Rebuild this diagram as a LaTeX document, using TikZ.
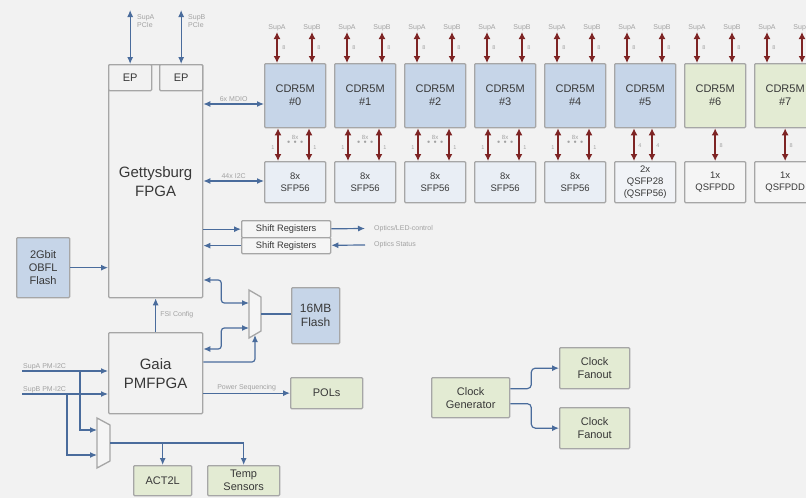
\documentclass[tikz,border=0pt]{standalone}
\usepackage{fontspec}
\setmainfont{Liberation Sans}
\usetikzlibrary{arrows.meta,calc}

\definecolor{bgc}{HTML}{F2F2F2}
\definecolor{bluebox}{HTML}{C6D5E8}
\definecolor{greenbox}{HTML}{E3EBD3}
\definecolor{sfpbox}{HTML}{E9EEF5}
\definecolor{qsfpbox}{HTML}{F1F3F7}
\definecolor{plainbox}{HTML}{F5F5F5}
\definecolor{wire}{HTML}{4A6C9C}
\definecolor{lane}{HTML}{7E2424}
\definecolor{edge}{HTML}{A6A6A6}
\definecolor{txt}{HTML}{383838}
\definecolor{lbl}{HTML}{A2A2A2}

\tikzset{
  blk/.style={draw=edge, line width=1.3pt, rounded corners=1pt, text=txt,
    align=center, inner sep=0pt, anchor=north west},
  bus/.style={draw=wire, line width=1.2pt, -{Latex[length=7pt,width=6pt]}},
  bibus/.style={bus, {Latex[length=7pt,width=6pt]}-{Latex[length=7pt,width=6pt]}},
  lanes/.style={draw=lane, line width=1.7pt,
    {Latex[length=7pt,width=7pt]}-{Latex[length=7pt,width=7pt]}},
  tag/.style={text=lbl, font=\fontsize{7}{8.5}\selectfont, inner sep=1pt, align=left},
  num/.style={text=lbl, font=\fontsize{5.5}{6}\selectfont, inner sep=0pt},
  bigf/.style={font=\fontsize{15}{19}\selectfont},
  midf/.style={font=\fontsize{11}{13}\selectfont},
}

\begin{document}
\begin{tikzpicture}[x=1pt,y=-1pt]
\fill[bgc] (0,0) rectangle (806,498);
\useasboundingbox (0,0) rectangle (806,498);
\clip (0,0) rectangle (806,498);

% FPGAs
\node[blk, fill=bgc, bigf, minimum width=94pt, minimum height=233pt] (fpga) at (108,64) {Gettysburg\\FPGA};
\node[blk, fill=bgc, midf, minimum width=43pt, minimum height=26pt] (ep0) at (108,64) {EP};
\node[blk, fill=bgc, midf, minimum width=43pt, minimum height=26pt] (ep1) at (159,64) {EP};
\node[blk, fill=bgc, bigf, minimum width=94pt, minimum height=81pt] (gaia) at (108,332) {Gaia\\PMFPGA};

\coordinate (pcieA) at (ep0.north |- 0,10);
\coordinate (pcieB) at (ep1.north |- 0,10);
\draw[bibus] (pcieA) -- (ep0.north);
\draw[bibus] (pcieB) -- (ep1.north);
\node[tag, anchor=north west] (pcieAlbl) at (136,13) {SupA\\PCIe};
\node[tag, anchor=north west] (pcieBlbl) at (187,13) {SupB\\PCIe};

% CDR5M row
\foreach \i/\fc/\sc/\sfp in {0/bluebox/sfpbox/{8x\\SFP56},1/bluebox/sfpbox/{8x\\SFP56},
    2/bluebox/sfpbox/{8x\\SFP56},3/bluebox/sfpbox/{8x\\SFP56},4/bluebox/sfpbox/{8x\\SFP56},
    5/bluebox/qsfpbox/{2x\\QSFP28\\(QSFP56)},6/greenbox/plainbox/{1x\\QSFPDD},
    7/greenbox/plainbox/{1x\\QSFPDD}}{
  \node[blk, fill=\fc, midf, minimum width=61pt, minimum height=64pt] (cdr\i) at ({264+70*\i},63) {CDR5M\\\#\i};
  \node[blk, fill=\sc, font=\fontsize{9.5}{12}\selectfont, minimum width=61pt, minimum height=41pt] (sfp\i) at ({264+70*\i},161) {\sfp};
  \coordinate (supA\i) at ($(cdr\i.north west)+(13,-31)$);
  \coordinate (supB\i) at ($(cdr\i.north west)+(48,-31)$);
  \draw[lanes] (supA\i) -- (supA\i |- cdr\i.north);
  \draw[lanes] (supB\i) -- (supB\i |- cdr\i.north);
  \node[tag, above] (supAlbl\i) at (supA\i) {SupA};
  \node[tag, above] (supBlbl\i) at (supB\i) {SupB};
  \node[num] (nA\i) at ($(supA\i)+(7,16)$) {8};
  \node[num] (nB\i) at ($(supB\i)+(7,16)$) {8};
}

\foreach \i in {0,...,4}{
  \draw[lanes] ($(cdr\i.south west)+(14,0)$) coordinate (lo\i) -- (lo\i |- sfp\i.north);
  \draw[lanes] ($(cdr\i.south west)+(45,0)$) coordinate (hi\i) -- (hi\i |- sfp\i.north);
  \node[num] (nlo\i) at ($(lo\i)+(-5,19)$) {1};
  \node[num] (nhi\i) at ($(hi\i)+(6,19)$) {1};
  \node[num, font=\fontsize{6}{6}\selectfont, anchor=south] (nx\i) at ($(cdr\i.south)+(0,11)$) {8x};
  \node[num, font=\fontsize{4}{4}\selectfont, anchor=north] (dots\i) at ($(cdr\i.south)+(0,13)$) {$\bullet\,\bullet\,\bullet$};
}
\draw[lanes] ($(cdr5.south west)+(20,0)$) coordinate (lo5) -- (lo5 |- sfp5.north);
\draw[lanes] ($(cdr5.south west)+(38,0)$) coordinate (hi5) -- (hi5 |- sfp5.north);
\node[num] (nlo5) at ($(lo5)+(6,17)$) {4};
\node[num] (nhi5) at ($(hi5)+(6,17)$) {4};
\foreach \i in {6,7}{
  \draw[lanes] (cdr\i.south) -- (sfp\i.north);
  \node[num] (nmid\i) at ($(cdr\i.south)+(6,17)$) {8};
}

\draw[bibus] (fpga.east |- 0,104) -- (cdr0.west |- 0,104) node[tag, midway, above=1pt] (mdio) {6x MDIO};
\draw[bibus] (fpga.east |- 0,181) -- (sfp0.west |- 0,181) node[tag, midway, above=1pt] (iic) {44x I2C};

% shift registers
\node[blk, fill=plainbox, font=\fontsize{9.3}{11}\selectfont, minimum width=89pt, minimum height=17pt] (sr0) at (241,220) {Shift Registers};
\node[blk, fill=plainbox, font=\fontsize{9.3}{11}\selectfont, minimum width=89pt, minimum height=16pt] (sr1) at (241,237) {Shift Registers};
\draw[bus] (fpga.east |- sr0) -- (sr0);
\draw[bus] (sr1) -- (fpga.east |- sr1);
\coordinate (ledout) at (365,228.5);
\coordinate (statin) at (365,245);
\draw[bus] (sr0) -- (ledout);
\draw[bus] (statin) -- (sr1);
\node[tag, anchor=west] (ledlbl) at (373,228.5) {Optics/LED-control};
\node[tag, anchor=west] (statlbl) at (373,245) {Optics Status};

% flashes
\node[blk, fill=bluebox, midf, minimum width=53pt, minimum height=60pt] (obfl) at (16,237) {2Gbit\\OBFL\\Flash};
\draw[bus] (obfl) -- (fpga.west |- obfl);
\node[blk, fill=bluebox, font=\fontsize{12}{14}\selectfont, minimum width=48pt, minimum height=56pt] (flash) at (291,287) {16MB\\Flash};

\draw[draw=edge, line width=1.3pt, fill=plainbox] (249,290) -- (261,297) -- (261,331) -- (249,338) -- cycle;
\coordinate (muxa0) at (249,303);
\coordinate (muxa1) at (249,328);
\coordinate (muxaout) at (261,314);
\coordinate (muxasel) at (255,335);
\draw[draw=wire, line width=1.2pt] (muxaout) -- (flash.west |- muxaout);
\draw[bibus, rounded corners=3pt] (fpga.east |- 0,280) -- ++(18,0) |- (muxa0);
\draw[bibus, rounded corners=3pt] (gaia.east |- 0,349) -- ++(18,0) |- (muxa1);
\draw[bus, rounded corners=3pt] (gaia.east |- 0,362) -| (muxasel);

\draw[bus] (gaia.north) -- (fpga.south) node[tag, midway, right=3pt] (fsi) {FSI Config};

% power management
\node[blk, fill=greenbox, midf, minimum width=72pt, minimum height=31pt] (pols) at (290,377) {POLs};
\draw[bus] (gaia.east |- pols) -- (pols) node[tag, midway, above=1pt] (pseq) {Power Sequencing};

\coordinate (pmA) at (22,371);
\coordinate (pmB) at (22,394);
\draw[bus] (pmA) -- (gaia.west |- pmA);
\draw[bus] (pmB) -- (gaia.west |- pmB);
\node[tag, anchor=south west] (pmAlbl) at (pmA) {SupA PM-I2C};
\node[tag, anchor=south west] (pmBlbl) at (pmB) {SupB PM-I2C};

\draw[draw=edge, line width=1.3pt, fill=plainbox] (97,418) -- (110,425) -- (110,461) -- (97,468) -- cycle;
\coordinate (muxb0) at (97,430);
\coordinate (muxb1) at (97,455);
\coordinate (muxbout) at (110,443);
\draw[bus] (80,371) coordinate (tapA) |- (muxb0);
\draw[bus] (67,394) coordinate (tapB) |- (muxb1);

\node[blk, fill=greenbox, midf, minimum width=58pt, minimum height=30pt] (act) at (133,465) {ACT2L};
\node[blk, fill=greenbox, midf, minimum width=72pt, minimum height=30pt] (temp) at (207,465) {Temp\\Sensors};
\draw[bus] (muxbout) -| (act.north);
\draw[bus] (muxbout) -| (temp.north);

% clocks
\node[blk, fill=greenbox, midf, minimum width=78pt, minimum height=40pt] (clkgen) at (431,377) {Clock\\Generator};
\node[blk, fill=greenbox, midf, minimum width=70pt, minimum height=41pt] (fan0) at (559,347) {Clock\\Fanout};
\node[blk, fill=greenbox, midf, minimum width=70pt, minimum height=41pt] (fan1) at (559,407) {Clock\\Fanout};
\draw[bus, rounded corners=4pt] ($(clkgen.east)+(0,-9)$) -- ++(21,0) |- (fan0);
\draw[bus, rounded corners=4pt] ($(clkgen.east)+(0,6)$) -- ++(21,0) |- (fan1);
\end{tikzpicture}
\end{document}
